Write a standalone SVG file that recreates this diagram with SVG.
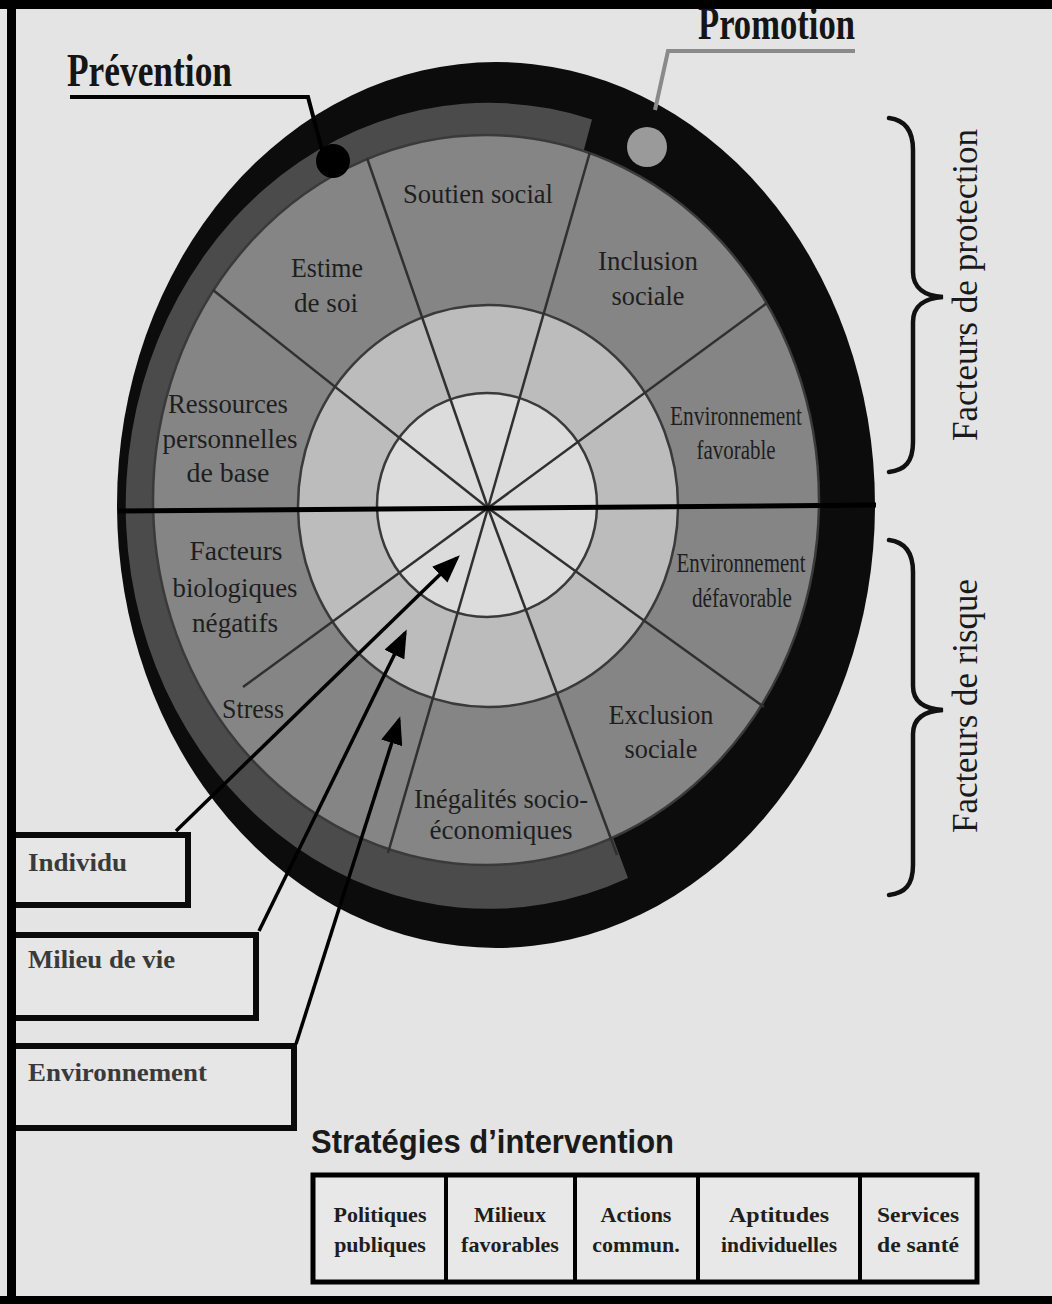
<svg xmlns="http://www.w3.org/2000/svg" width="1052" height="1304" viewBox="0 0 1052 1304">
  <style>
    .lbl{font-family:"Liberation Serif","Times New Roman",serif;font-size:28px;fill:#1e1e1e;text-anchor:middle}
    .head{font-family:"Liberation Serif","Times New Roman",serif;font-weight:bold;font-size:46px;fill:#151515}
    .side{font-family:"Liberation Serif","Times New Roman",serif;font-size:36px;fill:#1a1a1a;text-anchor:middle}
    .box{fill:#e6e6e6;stroke:#0a0a0a;stroke-width:6}
    .boxt{font-family:"Liberation Serif","Times New Roman",serif;font-weight:bold;font-size:26px;fill:#3a3a3a}
    .cell{font-family:"Liberation Serif","Times New Roman",serif;font-weight:bold;font-size:22px;fill:#1e1e1e;text-anchor:middle}
    .title{font-family:"Liberation Sans",Arial,sans-serif;font-weight:bold;font-size:33px;fill:#1a1a1a}
    .ray{stroke:#303030;stroke-width:2.5}
    .ring{stroke:#3a3a3a;stroke-width:2.5}
    .arrow{stroke:#000;stroke-width:3.5;fill:none;marker-end:url(#ah)}
    .brace{fill:none;stroke:#111;stroke-width:4.5;stroke-linecap:round}
  </style>
  <defs>
    <marker id="ah" viewBox="0 0 28 22" refX="24" refY="11" markerWidth="28" markerHeight="22" markerUnits="userSpaceOnUse" orient="auto">
      <path d="M0,0 L28,11 L0,22 Z" fill="#000"/>
    </marker>
  </defs>

  <!-- page -->
  <rect x="0" y="0" width="1052" height="1304" fill="#e4e4e4"/>

  <!-- wheel -->
  <g id="wheel">
    <ellipse cx="496" cy="505" rx="379" ry="443" fill="#0c0c0c"/>
    <!-- prevention band, running round the left side -->
    <path d="M489,506 L592,119.5 A363,403 0 1,0 628,878 Z" fill="#4b4b4b"/>
    <ellipse class="ring" cx="486" cy="500" rx="333" ry="365" fill="#858585"/>
    <ellipse class="ring" cx="488" cy="506" rx="190" ry="201" fill="#bcbcbc"/>
    <ellipse class="ring" cx="487" cy="505" rx="110" ry="112" fill="#dcdcdc"/>
    <g id="rays">
      <line class="ray" x1="488" y1="508" x2="213" y2="290"/>
      <line class="ray" x1="488" y1="508" x2="367" y2="158"/>
      <line class="ray" x1="488" y1="508" x2="590" y2="152"/>
      <line class="ray" x1="488" y1="508" x2="767" y2="303"/>
      <line class="ray" x1="488" y1="508" x2="764" y2="707"/>
      <line class="ray" x1="488" y1="508" x2="617" y2="855"/>
      <line class="ray" x1="488" y1="508" x2="388" y2="853"/>
      <line class="ray" x1="488" y1="508" x2="243" y2="687"/>
    </g>
    <line x1="118" y1="511" x2="876" y2="505" stroke="#000" stroke-width="5"/>
  </g>

  <!-- sector labels -->
  <g id="sector-labels">
    <g id="soutien"><text class="lbl" x="478" y="203" textLength="150" lengthAdjust="spacingAndGlyphs">Soutien social</text></g>
    <g id="estime">
      <text class="lbl" x="327" y="277" textLength="72" lengthAdjust="spacingAndGlyphs">Estime</text>
      <text class="lbl" x="326" y="312" textLength="64" lengthAdjust="spacingAndGlyphs">de soi</text>
    </g>
    <g id="inclusion">
      <text class="lbl" x="648" y="270" textLength="100" lengthAdjust="spacingAndGlyphs">Inclusion</text>
      <text class="lbl" x="648" y="305" textLength="73" lengthAdjust="spacingAndGlyphs">sociale</text>
    </g>
    <g id="ressources">
      <text class="lbl" x="228" y="413" textLength="120" lengthAdjust="spacingAndGlyphs">Ressources</text>
      <text class="lbl" x="230" y="448" textLength="135" lengthAdjust="spacingAndGlyphs">personnelles</text>
      <text class="lbl" x="228" y="482" textLength="83" lengthAdjust="spacingAndGlyphs">de base</text>
    </g>
    <g id="env-favorable">
      <text class="lbl" x="736" y="425" textLength="132" lengthAdjust="spacingAndGlyphs">Environnement</text>
      <text class="lbl" x="736" y="459" textLength="79" lengthAdjust="spacingAndGlyphs">favorable</text>
    </g>
    <g id="bio">
      <text class="lbl" x="236" y="560" textLength="93" lengthAdjust="spacingAndGlyphs">Facteurs</text>
      <text class="lbl" x="235" y="597" textLength="125" lengthAdjust="spacingAndGlyphs">biologiques</text>
      <text class="lbl" x="235" y="632" textLength="86" lengthAdjust="spacingAndGlyphs">négatifs</text>
    </g>
    <g id="env-defavorable">
      <text class="lbl" x="741" y="572" textLength="129" lengthAdjust="spacingAndGlyphs">Environnement</text>
      <text class="lbl" x="742" y="607" textLength="100" lengthAdjust="spacingAndGlyphs">défavorable</text>
    </g>
    <g id="stress"><text class="lbl" x="253" y="718" textLength="62" lengthAdjust="spacingAndGlyphs">Stress</text></g>
    <g id="exclusion">
      <text class="lbl" x="661" y="724" textLength="105" lengthAdjust="spacingAndGlyphs">Exclusion</text>
      <text class="lbl" x="661" y="758" textLength="73" lengthAdjust="spacingAndGlyphs">sociale</text>
    </g>
    <g id="inegalites">
      <text class="lbl" x="501" y="808" textLength="174" lengthAdjust="spacingAndGlyphs">Inégalités socio-</text>
      <text class="lbl" x="501" y="839" textLength="143" lengthAdjust="spacingAndGlyphs">économiques</text>
    </g>
  </g>

  <!-- level boxes -->
  <g id="individu">
    <rect class="box" x="12" y="835" width="176" height="70"/>
    <text class="boxt" x="28" y="871" textLength="99" lengthAdjust="spacingAndGlyphs">Individu</text>
  </g>
  <g id="milieu">
    <rect class="box" x="12" y="935" width="244" height="83"/>
    <text class="boxt" x="28" y="968" textLength="147" lengthAdjust="spacingAndGlyphs">Milieu de vie</text>
  </g>
  <g id="environnement">
    <rect class="box" x="12" y="1046" width="282" height="82"/>
    <text class="boxt" x="28" y="1081" textLength="179" lengthAdjust="spacingAndGlyphs">Environnement</text>
  </g>

  <!-- connectors -->
  <g id="connectors">
    <polyline points="70,97 308,97 322,150" fill="none" stroke="#000" stroke-width="4"/>
    <polyline points="855,51 668,51 655,110" fill="none" stroke="#8a8a8a" stroke-width="4"/>
    <line class="arrow" x1="176" y1="831" x2="457" y2="558"/>
    <line class="arrow" x1="259" y1="931" x2="405" y2="633"/>
    <line class="arrow" x1="296" y1="1044" x2="399" y2="720"/>
  </g>

  <!-- Prévention / Promotion -->
  <g id="prevention">
    <circle cx="333" cy="161" r="17" fill="#000"/>
    <text class="head" x="67" y="86" textLength="165" lengthAdjust="spacingAndGlyphs">Prévention</text>
  </g>
  <g id="promotion">
    <circle cx="647" cy="147" r="20" fill="#9a9a9a"/>
    <text class="head" x="698" y="39" textLength="157" lengthAdjust="spacingAndGlyphs">Promotion</text>
  </g>

  <!-- side braces -->
  <g id="protection">
    <path class="brace" d="M889,118 C905,120 913,130 913,150 L913,272 C913,288 925,296 943,297 C925,298 913,306 913,322 L913,442 C913,462 905,470 889,472"/>
    <text class="side" transform="translate(977,285) rotate(-90)" textLength="312" lengthAdjust="spacingAndGlyphs">Facteurs de protection</text>
  </g>
  <g id="risque">
    <path class="brace" d="M889,540 C905,542 913,552 913,572 L913,686 C913,702 925,709 943,710 C925,711 913,718 913,734 L913,865 C913,885 905,893 889,895"/>
    <text class="side" transform="translate(977,706) rotate(-90)" textLength="254" lengthAdjust="spacingAndGlyphs">Facteurs de risque</text>
  </g>

  <!-- intervention strategies -->
  <g id="strategies">
    <text class="title" x="311" y="1153" textLength="363" lengthAdjust="spacingAndGlyphs">Stratégies d’intervention</text>
    <rect x="313" y="1175" width="664" height="107" fill="#e8e8e8" stroke="#000" stroke-width="5"/>
    <g stroke="#000" stroke-width="4">
      <line x1="446" y1="1175" x2="446" y2="1282"/>
      <line x1="575" y1="1175" x2="575" y2="1282"/>
      <line x1="698" y1="1175" x2="698" y2="1282"/>
      <line x1="860" y1="1175" x2="860" y2="1282"/>
    </g>
    <g id="politiques"><text class="cell" x="380" y="1222">Politiques</text><text class="cell" x="380" y="1252">publiques</text></g>
    <g id="milieux"><text class="cell" x="510" y="1222">Milieux</text><text class="cell" x="510" y="1252">favorables</text></g>
    <g id="actions"><text class="cell" x="636" y="1222">Actions</text><text class="cell" x="636" y="1252">commun.</text></g>
    <g id="aptitudes"><text class="cell" x="779" y="1222" textLength="100" lengthAdjust="spacingAndGlyphs">Aptitudes</text><text class="cell" x="779" y="1252" textLength="116" lengthAdjust="spacingAndGlyphs">individuelles</text></g>
    <g id="services"><text class="cell" x="918" y="1222" textLength="82" lengthAdjust="spacingAndGlyphs">Services</text><text class="cell" x="918" y="1252" textLength="82" lengthAdjust="spacingAndGlyphs">de santé</text></g>
  </g>

  <!-- frame -->
  <g id="frame" fill="#000">
    <rect x="0" y="0" width="1052" height="9"/>
    <rect x="7" y="0" width="9" height="1304"/>
    <rect x="0" y="1296" width="1052" height="8"/>
  </g>
</svg>
